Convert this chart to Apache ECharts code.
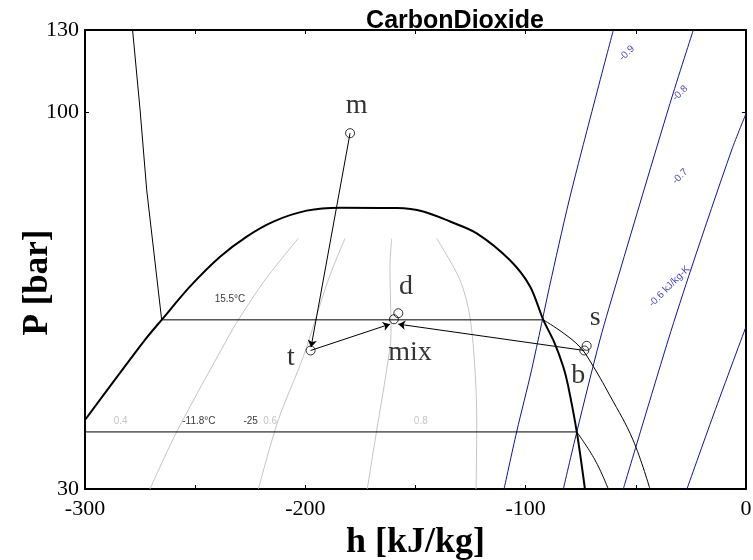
<!DOCTYPE html>
<html>
<head>
<meta charset="utf-8">
<script src="https://cdn.jsdelivr.net/npm/echarts@6/dist/echarts.min.js"></script>
<style>
  html, body { margin: 0; padding: 0; background: #fff; }
  #chart { width: 753px; height: 560px; }
</style>
</head>
<body>
<div id="chart"></div>
<script>
// CO2 P-h chart. h in kJ/kg, P in bar. P axis is logarithmic (plotted as log10 P)
const yTicks = [30, 100, 130];

// saturation dome
const satDome = [
  [-300, 37.4], [-272.8, 48.3], [-265.2, 51.5], [-252.3, 57.3], [-238.7, 63.0],
  [-226.6, 67.2], [-214.5, 70.5], [-199.4, 73.0], [-184.3, 73.7], [-158.5, 73.6],
  [-146.5, 72.8], [-134.3, 70.5], [-122.2, 67.9], [-107.1, 62.3], [-98.0, 57.3],
  [-92.0, 51.5], [-87.1, 48.0], [-82.9, 44.3], [-80.8, 41.8], [-76.8, 36.0], [-73.1, 30]
];

// isotherms: 15.5°C liquid + two-phase part, then its vapour part
const iso155 = [[-278.4, 130], [-275.0, 100.7], [-272.0, 78.0], [-265.2, 51.5], [-92.0, 51.5]];
const iso155Vap = [[-92.0, 51.5], [-83.0, 49.4], [-75.3, 47.2], [-70.5, 45.0], [-61.7, 40.4], [-51.3, 35.1], [-43.6, 30]];
const isoLow = [[-300, 36.0], [-76.8, 36.0]];
const isoLowVap = [[-76.8, 36.0], [-68.5, 32.9], [-62.5, 30]];

// quality lines (grey)
const qualA = [[-203.2, 66.8], [-218.3, 58.5], [-230.4, 51.5], [-235.7, 48.3], [-258.4, 36.0], [-270.5, 30]];
const qualB = [[-182.0, 66.8], [-189.6, 58.5], [-200.9, 45.8], [-212.3, 37.4], [-221.3, 30]];
const qualC = [[-160.8, 66.8], [-161.6, 61.0], [-161.1, 49.3], [-163.1, 43.9], [-167.6, 36.2], [-171.9, 30]];
const qualD = [[-140.4, 66.8], [-129.8, 58.5], [-125.3, 52.0], [-123.0, 43.9], [-122.2, 37.4], [-122.5, 30]];

// entropy lines (blue)
const s09 = [[-60.2, 130], [-79.1, 78.0], [-88.2, 59.1], [-97.3, 43.9], [-104.1, 36.0], [-109.8, 30]];
const s08 = [[-23.9, 130], [-34.5, 102.8], [-58.0, 59.1], [-66.3, 48.3], [-76.8, 36.0], [-82.9, 30]];
const s07 = [[0, 99.5], [-6.5, 88.6], [-24.6, 61.0], [-35.3, 48.3], [-55.7, 30]];
const s06 = [[0, 50.4], [-14.8, 38.0], [-26.8, 30]];

// state points
const stateNames = ['m', 't', 'mix', 'd', 's', 'b'];
const stateVals = [[-179.7, 93.5], [-197.6, 46.7], [-159.8, 51.6], [-157.8, 52.6], [-72.3, 47.4], [-73.4, 46.7]];

// process arrows: [from, to]
const arrows = [
  [[-179.7, 93.5], [-197.4, 47.2]],
  [[-197.6, 46.7], [-161.6, 50.8]],
  [[-73.4, 46.7], [-157.8, 50.8]]
];

// text labels [text, h, P]
const pointLabels = [['m', -176.7, 102.1], ['t', -206.5, 45.6], ['d', -154.3, 57.2],
  ['mix', -152.5, 46.4], ['s', -68.4, 51.8], ['b', -76.1, 43.1]];
const tempLabels = [['15.5°C', -234.2, 55.0], ['-11.8°C', -248.3, 37.3], ['-25', -224.8, 37.3]];
const qualLabels = [['0.4', -283.8, 37.3], ['0.6', -216.0, 37.3], ['0.8', -147.6, 37.3]];
const entLabels = [['-0.9', -54.1, 120.7], ['-0.8', -29.9, 106.2], ['-0.7', -29.9, 81.4], ['-0.6 kJ/kg-K', -34.8, 57.3]];

const lg = p => Math.log10(p);
const toXY = pts => pts.map(([h, p]) => [h, lg(p)]);

function curve(pts, color, width, smooth) {
  return {
    type: 'line', data: toXY(pts), showSymbol: false, smooth: smooth,
    lineStyle: { color: color, width: width }, silent: true, z: 3
  };
}
function textSeries(list, font, color, rotate) {
  return {
    type: 'scatter', symbolSize: 1, silent: true, z: 6,
    itemStyle: { color: 'rgba(0,0,0,0)' },
    data: list.map(([t, h, p]) => ({ name: t, value: [h, lg(p)] })),
    label: {
      show: true, position: 'inside', formatter: '{b}', rotate: rotate || 0,
      color: color, fontFamily: font.family, fontSize: font.size
    }
  };
}

const chart = echarts.init(document.getElementById('chart'));
const serif = "'Liberation Serif', 'Times New Roman', serif";
const sans = "'Liberation Sans', Arial, sans-serif";
const grey = '#c4c4c4';
const blue = '#12129a';

chart.setOption({
  animation: false,
  title: {
    text: 'CarbonDioxide', left: 455, top: 9, textAlign: 'center', padding: 0, z: 20,
    textStyle: { fontFamily: sans, fontSize: 25, fontWeight: 'bold', color: '#000' }
  },
  grid: { left: 85, right: 7, top: 30, bottom: 71, containLabel: false, outerBoundsMode: 'none' },
  xAxis: [
    {
      type: 'value', min: -300, max: 0, interval: 50, position: 'bottom',
      name: 'h [kJ/kg]', nameLocation: 'middle', nameGap: 36, nameMoveOverlap: false,
      nameTextStyle: { fontFamily: serif, fontSize: 36, fontWeight: 'bold', color: '#000' },
      axisLine: { onZero: false, lineStyle: { color: '#000', width: 2 } },
      axisTick: { inside: true, length: 4, lineStyle: { color: '#000' } },
      axisLabel: {
        margin: 9, fontFamily: serif, fontSize: 22, color: '#000',
        formatter: v => (v % 100 === 0 ? String(v) : '')
      },
      splitLine: { show: false }
    },
    {
      type: 'value', min: -300, max: 0, interval: 50, position: 'top',
      axisLine: { onZero: false, lineStyle: { color: '#000', width: 2 } },
      axisTick: { inside: true, length: 4, lineStyle: { color: '#000' } },
      axisLabel: { show: false }, splitLine: { show: false }
    }
  ],
  yAxis: [
    {
      type: 'value', min: lg(30), max: lg(130), position: 'left',
      name: 'P [bar]', nameLocation: 'middle', nameGap: 30, nameMoveOverlap: false,
      nameTextStyle: { fontFamily: serif, fontSize: 35, fontWeight: 'bold', color: '#000', padding: [0, 46, 0, 0] },
      axisLine: { onZero: false, lineStyle: { color: '#000', width: 2 } },
      axisTick: { inside: true, length: 4, customValues: yTicks.map(lg), lineStyle: { color: '#000' } },
      axisLabel: {
        customValues: yTicks.map(lg), margin: 6, fontFamily: serif, fontSize: 22, color: '#000',
        formatter: v => String(Math.round(Math.pow(10, v)))
      },
      splitLine: { show: false }
    },
    {
      type: 'value', min: lg(30), max: lg(130), position: 'right',
      axisLine: { onZero: false, lineStyle: { color: '#000', width: 2 } },
      axisTick: { inside: true, length: 4, customValues: yTicks.map(lg), lineStyle: { color: '#000' } },
      axisLabel: { show: false }, splitLine: { show: false }
    }
  ],
  series: [
    curve(qualA, grey, 1, 0.3),
    curve(qualB, grey, 1, 0.3),
    curve(qualC, grey, 1, 0.3),
    curve(qualD, grey, 1, 0.3),
    curve(s09, blue, 1, 0.3),
    curve(s08, blue, 1, 0.3),
    curve(s07, blue, 1, 0.3),
    curve(s06, blue, 1, 0.3),
    curve(iso155, '#000', 1, false),
    curve(iso155Vap, '#000', 1, 0.4),
    curve(isoLow, '#000', 1, false),
    curve(isoLowVap, '#000', 1, 0.4),
    curve(satDome, '#000', 2, 0.3),
    {
      type: 'lines', coordinateSystem: 'cartesian2d', silent: true, z: 4,
      symbol: ['none', 'arrow'], symbolSize: 7,
      lineStyle: { color: '#000', width: 1, opacity: 1 },
      data: arrows.map(([a, b]) => ({ coords: [[a[0], lg(a[1])], [b[0], lg(b[1])]] }))
    },
    {
      type: 'scatter', symbol: 'circle', symbolSize: 9, silent: true, z: 5,
      itemStyle: { color: 'rgba(0,0,0,0)', borderColor: '#000', borderWidth: 1 },
      data: stateVals.map((v, i) => ({ name: stateNames[i], value: [v[0], lg(v[1])] }))
    },
    textSeries(pointLabels, { family: serif, size: 28 }, '#000'),
    textSeries(tempLabels, { family: sans, size: 10 }, '#000'),
    textSeries(qualLabels, { family: sans, size: 10 }, '#b4b4b4'),
    textSeries(entLabels, { family: sans, size: 10 }, blue, 45)
  ]
});
</script>
</body>
</html>
